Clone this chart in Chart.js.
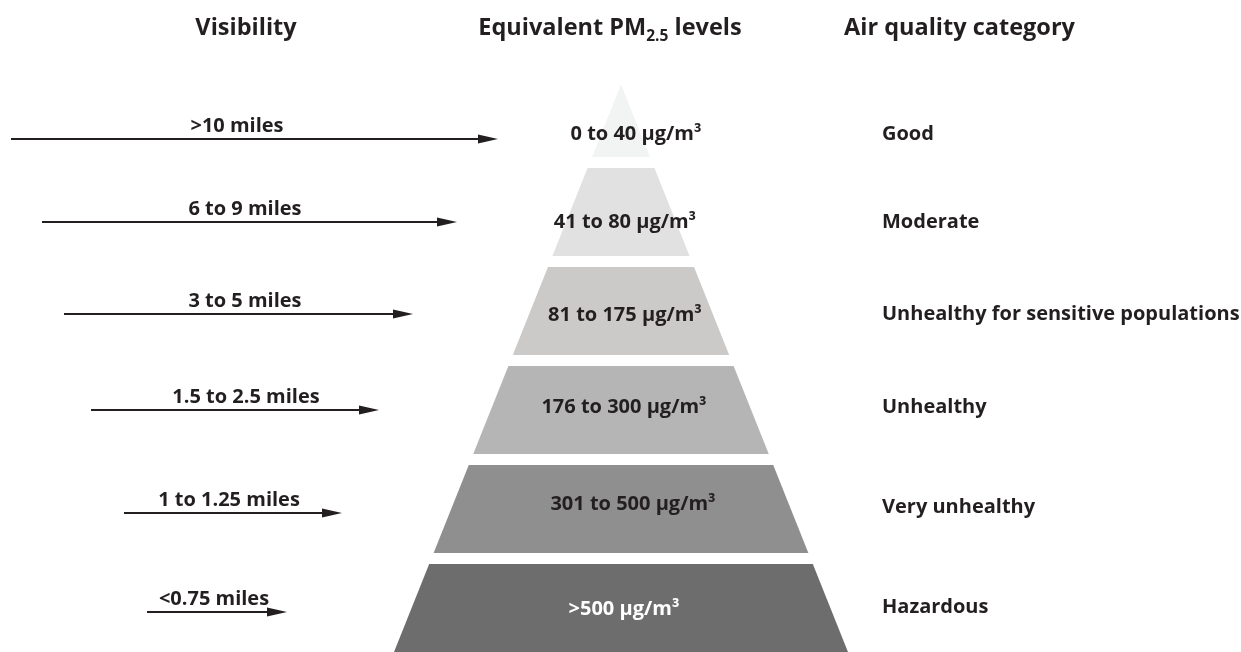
<!DOCTYPE html>
<html>
<head>
<meta charset="utf-8">
<script src="https://cdn.jsdelivr.net/npm/chart.js@4.4.0/dist/chart.umd.min.js"></script>
<style>
  html, body { margin: 0; padding: 0; background: #fff; }
  #wrap { width: 1241px; height: 652px; }
</style>
</head>
<body>
<div id="wrap"><canvas id="chartPiramide" width="1241" height="652"></canvas></div>
<script>
// datos
const titulos = ["Visibility", "Equivalent PM", "Air quality category"]
const visibilidad = [">10 miles", "6 to 9 miles", "3 to 5 miles", "1.5 to 2.5 miles", "1 to 1.25 miles", "<0.75 miles"]
const nivelesPM = ["0 to 40 µg/m³", "41 to 80 µg/m³", "81 to 175 µg/m³", "176 to 300 µg/m³", "301 to 500 µg/m³", ">500 µg/m³"]
const categorias = ["Good", "Moderate", "Unhealthy for sensitive populations", "Unhealthy", "Very unhealthy", "Hazardous"]
// flechas: inicio y punta sobre el eje x
const flechaInicio = [11, 42, 64, 91, 124, 147]
const flechaFin = [498, 457, 413, 379, 342, 287]

// estilos y posiciones
const grises = ["#f2f3f3", "#e1e1e1", "#cbcac8", "#b4b5b4", "#8f8f8f", "#6d6d6d"]
const colorTexto = "#231f20"
const centroX = 621
const vertice = -0.288     // punta de la piramide (en unidades de fila)
const pendiente = 39.6     // semiancho por fila
const medioAlto = 0.444    // media altura de cada franja
const PX_FILA = 99
const dyFlecha = [26, 10, 3, 0, 4, 4]
const dyCategoria = [27, 16, 9, 3, 4, 5]
const dyPM = [27, 16, 10, 3, 1, 7]
const xVisib = [237, 245, 245, 246, 229, 214]
const xPM = [636, 625, 625, 624, 633, 624]
const FUENTE = "'Open Sans', 'DejaVu Sans', sans-serif"

function semiancho(v) {
  return Math.max(0, pendiente * (v - vertice))
}

// franjas de la piramide como poligonos rellenos
const franjas = grises.map((color, i) => {
  const arriba = Math.max(i - medioAlto, vertice)
  const abajo = i + medioAlto
  const pts = [
    { x: centroX - semiancho(abajo), y: abajo },
    { x: centroX - semiancho(arriba), y: arriba },
    { x: centroX + semiancho(arriba), y: arriba },
    { x: centroX + semiancho(abajo), y: abajo },
    { x: centroX - semiancho(abajo), y: abajo },
  ]
  return {
    data: pts,
    showLine: true,
    fill: "shape",
    backgroundColor: color,
    borderColor: color,
    borderWidth: 0,
    pointRadius: 0,
  }
})

// cuerpo de las flechas
const filaFlecha = (i) => i + dyFlecha[i] / PX_FILA
const flechas = flechaInicio.map((x0, i) => ({
  data: [{ x: x0, y: filaFlecha(i) }, { x: flechaFin[i] - 10, y: filaFlecha(i) }],
  showLine: true,
  fill: false,
  borderColor: colorTexto,
  borderWidth: 2,
  pointRadius: 0,
}))

const textos = {
  id: "textos",
  afterDatasetsDraw(chart) {
    const ctx = chart.ctx
    const sx = chart.scales.x
    const sy = chart.scales.y
    ctx.save()
    ctx.fillStyle = colorTexto

    // puntas de flecha
    flechaFin.forEach((xf, i) => {
      const px = sx.getPixelForValue(xf)
      const py = sy.getPixelForValue(filaFlecha(i))
      ctx.beginPath()
      ctx.moveTo(px, py)
      ctx.lineTo(px - 20, py - 4.5)
      ctx.lineTo(px - 20, py + 4.5)
      ctx.closePath()
      ctx.fill()
    })

    // titulos
    const fT = "bold 23.5px " + FUENTE
    const fS = "bold 15.5px " + FUENTE
    ctx.font = fT
    ctx.textBaseline = "alphabetic"
    ctx.textAlign = "center"
    ctx.fillText(titulos[0], 246, 35)
    ctx.textAlign = "left"
    ctx.fillText(titulos[2], 844, 35)
    // PM con subindice 2.5
    const w1 = ctx.measureText(titulos[1]).width
    const w3 = ctx.measureText(" levels").width
    ctx.font = fS
    const w2 = ctx.measureText("2.5").width
    let x = 610 - (w1 + w2 + w3) / 2
    ctx.font = fT
    ctx.fillText(titulos[1], x, 35)
    ctx.font = fS
    ctx.fillText("2.5", x + w1, 41)
    ctx.font = fT
    ctx.fillText(" levels", x + w1 + w2, 35)

    // etiquetas de cada fila
    ctx.font = "bold 20px " + FUENTE
    visibilidad.forEach((t, i) => {
      const py = sy.getPixelForValue(filaFlecha(i))
      ctx.textAlign = "center"
      ctx.fillStyle = colorTexto
      ctx.fillText(t, xVisib[i], py - 7)
    })
    nivelesPM.forEach((t, i) => {
      const py = sy.getPixelForValue(i) + dyPM[i]
      ctx.textAlign = "center"
      ctx.fillStyle = i === 5 ? "#ffffff" : colorTexto
      ctx.fillText(t, xPM[i], py)
    })
    categorias.forEach((t, i) => {
      const py = sy.getPixelForValue(i) + dyCategoria[i]
      ctx.textAlign = "left"
      ctx.fillStyle = colorTexto
      ctx.fillText(t, 882, py)
    })
    ctx.restore()
  },
}

// fila i -> pixel 113 + 99 i ; el area del grafico ocupa todo el lienzo
new Chart(document.getElementById("chartPiramide"), {
  type: "scatter",
  data: { datasets: [...franjas, ...flechas] },
  options: {
    responsive: false,
    devicePixelRatio: 1,
    animation: false,
    layout: { padding: 0 },
    plugins: { legend: { display: false }, tooltip: { enabled: false } },
    scales: {
      x: { type: "linear", min: 0, max: 1241, display: false },
      y: { type: "linear", min: -113 / PX_FILA, max: 539 / PX_FILA, reverse: true, display: false },
    },
  },
  plugins: [textos],
})
</script>
</body>
</html>
